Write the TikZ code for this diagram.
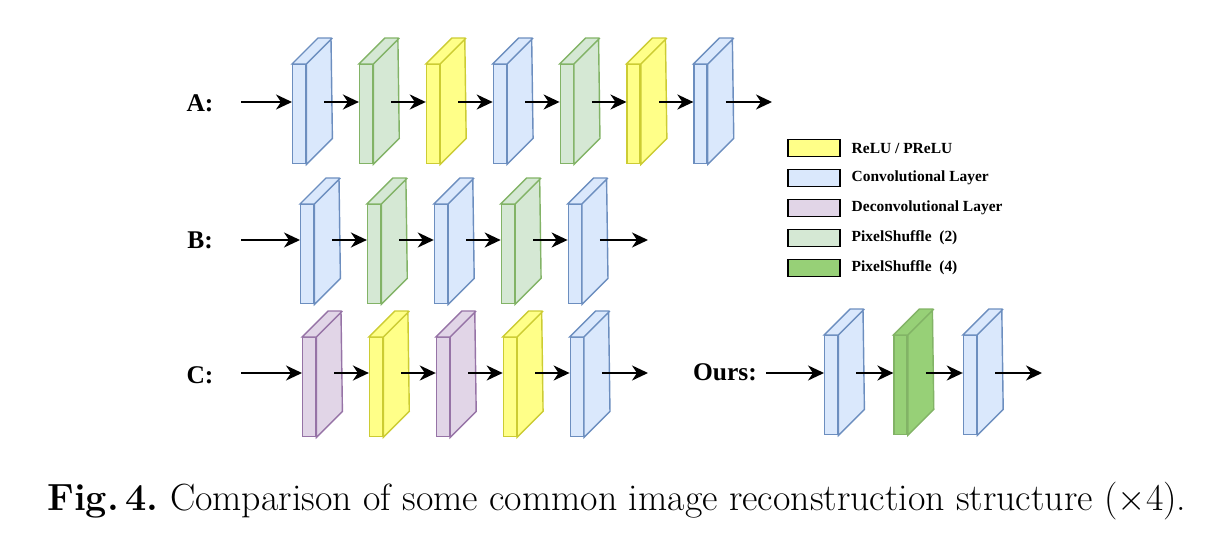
\documentclass[tikz,border=0pt]{standalone}
\usepackage{fontspec}
\usepackage{amsmath}
\usepackage{tikz}
\usetikzlibrary{positioning,arrows.meta}
\newfontfamily\timesfont{Liberation Serif}

\definecolor{convfill}{HTML}{DAE8FC}
\definecolor{convline}{HTML}{6C8EBF}
\definecolor{psfill}{HTML}{D5E8D4}
\definecolor{psline}{HTML}{82B366}
\definecolor{relufill}{HTML}{FFFF88}
\definecolor{reluline}{HTML}{CCCC33}
\definecolor{deconvfill}{HTML}{E1D5E7}
\definecolor{deconvline}{HTML}{9673A6}
\definecolor{psfourfill}{HTML}{97D077}

\begin{document}
\begin{tikzpicture}[
    x=0.02cm, y=-0.02cm,
    node distance=1.05cm,
    layer/.style={
        draw,
        rectangle,
        minimum width=0.26cm,
        minimum height=1.98cm,
        inner sep=0pt,
        anchor=north west
    },
    conv/.style={fill=convfill, draw=convline, line width=0.8pt},
    ps/.style={fill=psfill, draw=psline, line width=0.8pt},
    relu/.style={fill=relufill, draw=reluline, line width=0.8pt},
    deconv/.style={fill=deconvfill, draw=deconvline, line width=0.8pt},
    psfour/.style={fill=psfourfill, draw=psline, line width=0.8pt},
    arr/.style={-{Stealth[length=3.2mm,width=3mm,inset=1mm]}, line width=1.2pt},
    rowlabel/.style={font=\timesfont\bfseries\fontsize{14.5}{16}\selectfont},
    swatch/.style={draw, line width=0.6pt, minimum width=1.04cm, minimum height=0.34cm, inner sep=0pt},
    keytext/.style={font=\timesfont\bfseries\fontsize{8.8}{10}\selectfont, anchor=west}
]
\useasboundingbox (0,0) rectangle (1222,560);

% Row A
\node [rowlabel] (la) at (200,103) {A:};
\coordinate (ain) at (241,102);
\node [layer, conv] (a1) at (292,64) {};
\node [layer, ps, right=of a1] (a2) {};
\node [layer, relu, right=of a2] (a3) {};
\node [layer, conv, right=of a3] (a4) {};
\node [layer, ps, right=of a4] (a5) {};
\node [layer, relu, right=of a5] (a6) {};
\node [layer, conv, right=of a6] (a7) {};
\coordinate (aout) at (772,102);

% Row B
\node [rowlabel] (lb) at (200,240) {B:};
\coordinate (bin) at (241,240);
\node [layer, conv] (b1) at (300,204) {};
\node [layer, ps, right=of b1] (b2) {};
\node [layer, conv, right=of b2] (b3) {};
\node [layer, ps, right=of b3] (b4) {};
\node [layer, conv, right=of b4] (b5) {};
\coordinate (bout) at (648,240);

% Row C
\node [rowlabel] (lc) at (200,375) {C:};
\coordinate (cin) at (241,373);
\node [layer, deconv] (c1) at (302,337) {};
\node [layer, relu, right=of c1] (c2) {};
\node [layer, deconv, right=of c2] (c3) {};
\node [layer, relu, right=of c3] (c4) {};
\node [layer, conv, right=of c4] (c5) {};
\coordinate (cout) at (648,373);

% Ours
\node [rowlabel] (lo) at (725,372) {Ours:};
\coordinate (oin) at (766,373);
\node [layer, conv] (o1) at (824,335) {};
\node [layer, psfour, right=1.1cm of o1] (o2) {};
\node [layer, conv, right=1.1cm of o2] (o3) {};
\coordinate (oout) at (1042,373);

% Depth faces
\foreach \n/\s in {a1/conv, a2/ps, a3/relu, a4/conv, a5/ps, a6/relu, a7/conv,
                   b1/conv, b2/ps, b3/conv, b4/ps, b5/conv,
                   c1/deconv, c2/relu, c3/deconv, c4/relu, c5/conv,
                   o1/conv, o2/psfour, o3/conv}
    \draw [\s] (\n.north west) -- ++(0.52cm,0.52cm) -- ++(0.26cm,0)
        -- ([shift={(0.52cm,0.52cm)}]\n.south east) -- (\n.south east)
        -- (\n.north east) -- cycle
        (\n.north east) -- ++(0.52cm,0.52cm);

% Arrows
\draw [arr] (ain) -- (ain -| a1.west);
\foreach \s/\t in {a1/a2, a2/a3, a3/a4, a4/a5, a5/a6, a6/a7}
    \draw [arr] ([xshift=0.36cm]\s.east |- ain) -- (ain -| \t.west);
\draw [arr] ([xshift=0.36cm]a7.east |- ain) -- (aout);

\draw [arr] (bin) -- (bin -| b1.west);
\foreach \s/\t in {b1/b2, b2/b3, b3/b4, b4/b5}
    \draw [arr] ([xshift=0.36cm]\s.east |- bin) -- (bin -| \t.west);
\draw [arr] ([xshift=0.36cm]b5.east |- bin) -- (bout);

\draw [arr] (cin) -- (cin -| c1.west);
\foreach \s/\t in {c1/c2, c2/c3, c3/c4, c4/c5}
    \draw [arr] ([xshift=0.36cm]\s.east |- cin) -- (cin -| \t.west);
\draw [arr] ([xshift=0.36cm]c5.east |- cin) -- (cout);

\draw [arr] (oin) -- (oin -| o1.west);
\foreach \s/\t in {o1/o2, o2/o3}
    \draw [arr] ([xshift=0.36cm]\s.east |- oin) -- (oin -| \t.west);
\draw [arr] ([xshift=0.36cm]o3.east |- oin) -- (oout);

% Legend
\node [swatch, fill=relufill] (k1) at (814,148) {};
\node [swatch, fill=convfill, below=0.24cm of k1] (k2) {};
\node [swatch, fill=deconvfill, below=0.24cm of k2] (k3) {};
\node [swatch, fill=psfill, below=0.24cm of k3] (k4) {};
\node [swatch, fill=psfourfill, below=0.24cm of k4] (k5) {};
\node [keytext, right=0.1cm of k1] (t1) {ReLU / PReLU};
\node [keytext, right=0.1cm of k2] (t2) {Convolutional Layer};
\node [keytext, right=0.1cm of k3] (t3) {Deconvolutional Layer};
\node [keytext, right=0.1cm of k4] (t4) {PixelShuffle\ \ (2)};
\node [keytext, right=0.1cm of k5] (t5) {PixelShuffle\ \ (4)};

% Caption
\node [anchor=west, inner sep=0pt, font=\fontsize{21.55}{24}\selectfont] (cap) at (47,501)
    {\frenchspacing\textbf{Fig.\,4.} Comparison of some common image reconstruction structure ($\times$4).};
\end{tikzpicture}
\end{document}
